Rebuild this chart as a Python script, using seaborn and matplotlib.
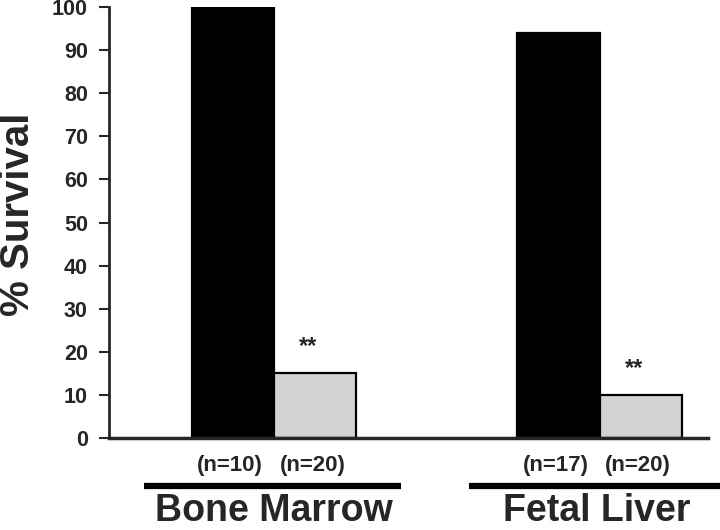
import pandas as pd
import numpy as np
import matplotlib.pyplot as plt
import seaborn as sns

sns.set_style('white')
plt.rcParams['font.family'] = ['Liberation Sans', 'DejaVu Sans']
plt.rcParams['font.weight'] = 'bold'

# 数据 (Data)
tissues = ['Bone Marrow', 'Fetal Liver']
groups = ['control', 'treated']
survival_control = [100, 94]
survival_treated = [15, 10]
n_control = ['(n=10)', '(n=17)']
n_treated = ['(n=20)', '(n=20)']
stars = ['**', '**']

df = pd.DataFrame({
    'tissue': tissues * 2,
    'group': [groups[0]] * 2 + [groups[1]] * 2,
    'survival': survival_control + survival_treated,
    'n': n_control + n_treated,
})

fig = plt.figure(figsize=(7.2, 5.3), dpi=100)
ax = fig.add_axes([0.151, 0.1736, 0.832, 0.813])

sns.barplot(data=df, x='tissue', y='survival', hue='group', order=tissues,
            hue_order=groups, palette=['black', '#d3d3d3'], width=0.505,
            edgecolor='black', linewidth=1.6, legend=False, ax=ax)

ax.set_ylim(0, 100)
ax.set_xlim(-0.507, 1.332)
ax.set_yticks(range(0, 101, 10))
ax.tick_params(axis='y', direction='out', length=7, width=1.5, left=True,
               labelsize=15.5, pad=8)
for lbl in ax.get_yticklabels():
    lbl.set_fontweight('bold')
ax.set_xticks([])
ax.set_xlabel('')
ax.set_ylabel('% Survival', fontsize=29, fontweight='bold')
ax.yaxis.set_label_coords(-0.12, 0.52)
sns.despine(ax=ax)
ax.spines['left'].set_linewidth(2)
ax.spines['bottom'].set_linewidth(2.5)

# 柱子标注 (n 和 **)
bars = ax.patches[:4]
labels_n = df['n'].tolist()
for i, bar in enumerate(bars):
    cx = bar.get_x() + bar.get_width() / 2
    ax.text(cx - 0.008, -6.3, labels_n[i], ha='center', va='center', fontsize=16,
            fontweight='bold', clip_on=False)
    if i >= 2:
        ax.text(cx - 0.02, bar.get_height() + 3.5, stars[i - 2], ha='center',
                va='bottom', fontsize=17, fontweight='bold')

# 组标签
for j, name in enumerate(tissues):
    ax.plot([j - 0.40, j + 0.39 + 0.4 * j], [-11.2, -11.2], color='black',
            lw=4.5, clip_on=False, solid_capstyle='butt')
    ax.text(j - 0.01 * j, -21.2, name, ha='center', va='bottom', fontsize=27,
            fontweight='bold', clip_on=False)

fig.savefig('out.png', dpi=100)
